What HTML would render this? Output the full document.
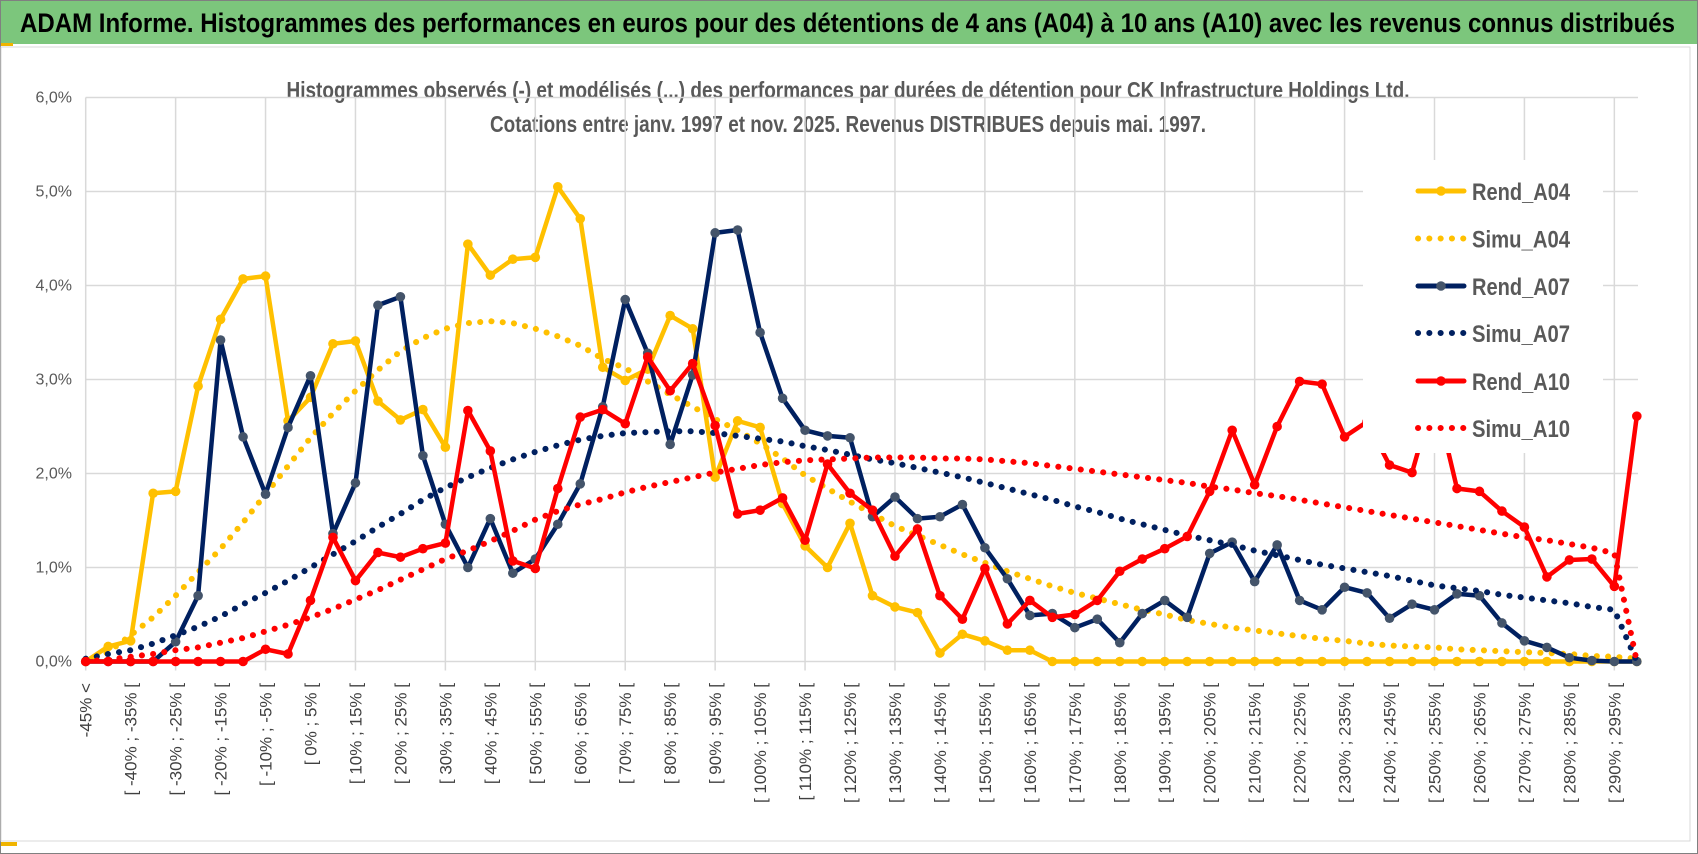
<!DOCTYPE html>
<html><head><meta charset="utf-8"><style>
html,body{margin:0;padding:0;background:#fff;}
svg{display:block;}
</style></head><body>
<svg id="chart" width="1698" height="854" xmlns="http://www.w3.org/2000/svg">
<rect x="0.5" y="0.5" width="1697" height="853" fill="#fff" stroke="#808080"/>
<rect x="1" y="1" width="1696" height="43" fill="#7cc67c"/>
<rect x="1" y="43" width="12" height="3" fill="#f0b400"/>
<text x="20" y="32" font-family="Liberation Sans, sans-serif" font-weight="bold" font-size="27" fill="#000" textLength="1655" lengthAdjust="spacingAndGlyphs">ADAM Informe. Histogrammes des performances en euros pour des détentions de 4 ans (A04) à 10 ans (A10) avec les revenus connus distribués</text>
<rect x="1" y="47" width="1689" height="794" fill="#fff" stroke="#d9d9d9"/>
<rect x="1" y="842" width="16" height="4" fill="#f0b400"/>
<text x="848" y="98" text-anchor="middle" font-family="Liberation Sans, sans-serif" font-weight="bold" font-size="23" fill="#595959" textLength="1123" lengthAdjust="spacingAndGlyphs">Histogrammes observés (-) et modélisés (...) des performances par durées de détention pour CK Infrastructure Holdings Ltd.</text>
<text x="848" y="132" text-anchor="middle" font-family="Liberation Sans, sans-serif" font-weight="bold" font-size="23" fill="#595959" textLength="716" lengthAdjust="spacingAndGlyphs">Cotations entre janv. 1997 et nov. 2025. Revenus DISTRIBUES depuis mai. 1997.</text>
<g id="grid"></g><g id="axes"></g><g id="series"></g><g id="legend"></g>
</svg>
<script>
const rendA04 = [0,0.16,0.22,1.79,1.81,2.93,3.64,4.07,4.10,2.56,2.81,3.38,3.41,2.77,2.57,2.68,2.28,4.44,4.11,4.28,4.30,5.05,4.71,3.13,2.99,3.11,3.68,3.54,1.96,2.56,2.49,1.68,1.23,1.00,1.47,0.70,0.58,0.52,0.09,0.29,0.22,0.12,0.12,0,0,0,0,0,0,0,0,0,0,0,0,0,0,0,0,0,0,0,0,0,0,0,0,0,0,0];
const simuA04 = [0.00,0.10,0.28,0.47,0.70,0.95,1.20,1.48,1.78,2.08,2.38,2.64,2.88,3.10,3.30,3.44,3.54,3.60,3.62,3.60,3.54,3.46,3.36,3.22,3.12,2.98,2.84,2.71,2.58,2.46,2.32,2.16,1.98,1.84,1.70,1.57,1.44,1.34,1.24,1.14,1.05,0.96,0.88,0.80,0.73,0.67,0.61,0.55,0.50,0.44,0.40,0.36,0.33,0.30,0.27,0.24,0.22,0.19,0.17,0.16,0.15,0.13,0.12,0.11,0.10,0.09,0.08,0.06,0.05,0.03];
const rendA07 = [0,0,0,0,0.21,0.70,3.42,2.39,1.78,2.49,3.04,1.36,1.90,3.79,3.88,2.19,1.46,1.00,1.52,0.94,1.09,1.46,1.89,2.71,3.85,3.28,2.31,3.05,4.56,4.59,3.50,2.80,2.46,2.40,2.38,1.54,1.75,1.52,1.54,1.67,1.21,0.88,0.49,0.51,0.36,0.45,0.20,0.51,0.65,0.47,1.15,1.27,0.85,1.24,0.65,0.55,0.79,0.73,0.46,0.61,0.55,0.72,0.70,0.41,0.22,0.15,0.04,0.01,0,0];
const simuA07 = [0.03,0.08,0.12,0.19,0.28,0.37,0.48,0.61,0.73,0.86,1.00,1.14,1.28,1.43,1.57,1.72,1.85,1.96,2.06,2.15,2.23,2.30,2.36,2.40,2.43,2.44,2.45,2.45,2.43,2.40,2.37,2.34,2.29,2.25,2.20,2.15,2.11,2.06,2.01,1.96,1.90,1.84,1.78,1.72,1.65,1.59,1.52,1.46,1.40,1.34,1.29,1.24,1.18,1.13,1.08,1.03,0.99,0.95,0.91,0.86,0.81,0.78,0.75,0.71,0.68,0.65,0.62,0.58,0.55,0.00];
const rendA10 = [0,0,0,0,0,0,0,0,0.13,0.08,0.65,1.32,0.86,1.16,1.11,1.20,1.26,2.67,2.24,1.07,0.99,1.84,2.60,2.68,2.53,3.24,2.88,3.17,2.51,1.57,1.61,1.74,1.29,2.10,1.79,1.61,1.12,1.41,0.70,0.45,0.99,0.40,0.65,0.47,0.50,0.65,0.96,1.09,1.20,1.33,1.81,2.46,1.88,2.50,2.98,2.95,2.39,2.55,2.09,2.01,2.85,1.84,1.81,1.60,1.43,0.90,1.08,1.09,0.80,2.61];
const simuA10 = [0.00,0.02,0.05,0.08,0.12,0.15,0.20,0.25,0.32,0.39,0.47,0.56,0.66,0.76,0.87,0.98,1.09,1.18,1.28,1.39,1.51,1.60,1.67,1.73,1.80,1.86,1.91,1.96,2.01,2.05,2.09,2.12,2.14,2.15,2.16,2.17,2.17,2.17,2.16,2.16,2.15,2.13,2.11,2.08,2.05,2.02,1.99,1.96,1.93,1.90,1.86,1.83,1.79,1.76,1.72,1.68,1.64,1.60,1.56,1.52,1.48,1.44,1.40,1.36,1.32,1.29,1.25,1.21,1.15,0.00];
const yTicks = [0,1,2,3,4,5,6];
const yTickLabels = ["0,0%","1,0%","2,0%","3,0%","4,0%","5,0%","6,0%"];
const seriesNames = ["Rend_A04","Simu_A04","Rend_A07","Simu_A07","Rend_A10","Simu_A10"];

const categories = ["-45% <"];
for (let k = 1; k < rendA04.length; k++) { const a = -45 + 5*(k-1); categories.push("[ " + a + "% ; " + (a+5) + "% ["); }

const NS = "http://www.w3.org/2000/svg";
const X0 = 85.7, DX = 22.48, Y0 = 661.5, DY = 94.0, XR = 1638;
function xs(i){ return X0 + DX*i; }
function ys(v){ return Y0 - DY*v; }
function mk(tag, attrs, parent){ const e = document.createElementNS(NS, tag); for (const k in attrs) e.setAttribute(k, attrs[k]); parent.appendChild(e); return e; }

const grid = document.getElementById('grid'), axes = document.getElementById('axes'), ser = document.getElementById('series'), leg = document.getElementById('legend');
yTicks.forEach((t, j) => {
  const l = mk('line', {x1:X0, x2:XR, y1:ys(t), y2:ys(t), stroke:'#d9d9d9', 'stroke-width':1.5}, grid);
  
  
  const tx = mk('text', {x:72, y:ys(t)+5, 'text-anchor':'end', 'font-family':'Liberation Sans, sans-serif', 'font-size':16, fill:'#595959'}, axes);
  tx.textContent = yTickLabels[j];
  
  
});
for (let i = 0; i < categories.length; i += 4) {
  const l = mk('line', {x1:xs(i), x2:xs(i), y1:ys(6), y2:Y0+9, stroke:'#d9d9d9', 'stroke-width':1.5}, grid);
  
  
}
for (let i = 0; i < categories.length; i += 2) {
  const px = xs(i) + 6, py = 683;
  const tx = mk('text', {x:px, y:py, transform:'rotate(-90 '+px+' '+py+')', 'text-anchor':'end', 'font-family':'Liberation Sans, sans-serif', 'font-size':17, fill:'#404040'}, axes);
  tx.textContent = categories[i];
  
  
}

const styles = [
  {data:rendA04, color:'#ffc000', mfill:'#ffc000', dotted:false},
  {data:simuA04, color:'#ffc000', dotted:true},
  {data:rendA07, color:'#002060', mfill:'#44546a', dotted:false},
  {data:simuA07, color:'#002060', dotted:true},
  {data:rendA10, color:'#ff0000', mfill:'#ff0000', dotted:false},
  {data:simuA10, color:'#ff0000', dotted:true}
];
styles.forEach((s, si) => {
  const g = mk('g', {}, ser);
  
  
  const pts = s.data.map((v,i) => xs(i).toFixed(1) + ',' + ys(v).toFixed(1)).join(' ');
  const attrs = {points:pts, fill:'none', stroke:s.color, 'stroke-linejoin':'round', 'stroke-linecap':'round'};
  if (s.dotted) { attrs['stroke-width'] = 6; attrs['stroke-dasharray'] = '0.1 11.2'; } else { attrs['stroke-width'] = 4.5; }
  const pl = mk('polyline', attrs, g);
  
  
  if (!s.dotted) {
    s.data.forEach((v,i) => {
      const c = mk('circle', {cx:xs(i), cy:ys(v), r:4.8, fill:s.mfill}, g);
      
      
    });
  }
});

const lbox = mk('rect', {x:1363, y:160, width:240, height:293, fill:'#fff'}, leg);


const legY = [191, 238.5, 286, 333, 381, 428];
seriesNames.forEach((n, k) => {
  const s = styles[k], y = legY[k];
  const g = mk('g', {}, leg);
  
  
  const la = {x1:1418, x2:1464, y1:y, y2:y, stroke:s.color, 'stroke-linecap':'round'};
  if (s.dotted) { la['stroke-width'] = 6; la['stroke-dasharray'] = '0.1 11.2'; } else { la['stroke-width'] = 5; }
  const l = mk('line', la, g);
  
  
  if (!s.dotted) {
    const c = mk('circle', {cx:1441, cy:y, r:4.8, fill:s.mfill}, g);
    
    
  }
  const t = mk('text', {x:1472, y:y+9, 'font-family':'Liberation Sans, sans-serif', 'font-weight':'bold', 'font-size':24, fill:'#595959', textLength:98, lengthAdjust:'spacingAndGlyphs'}, g);
  t.textContent = n;
  
  
});
</script>
</body></html>
